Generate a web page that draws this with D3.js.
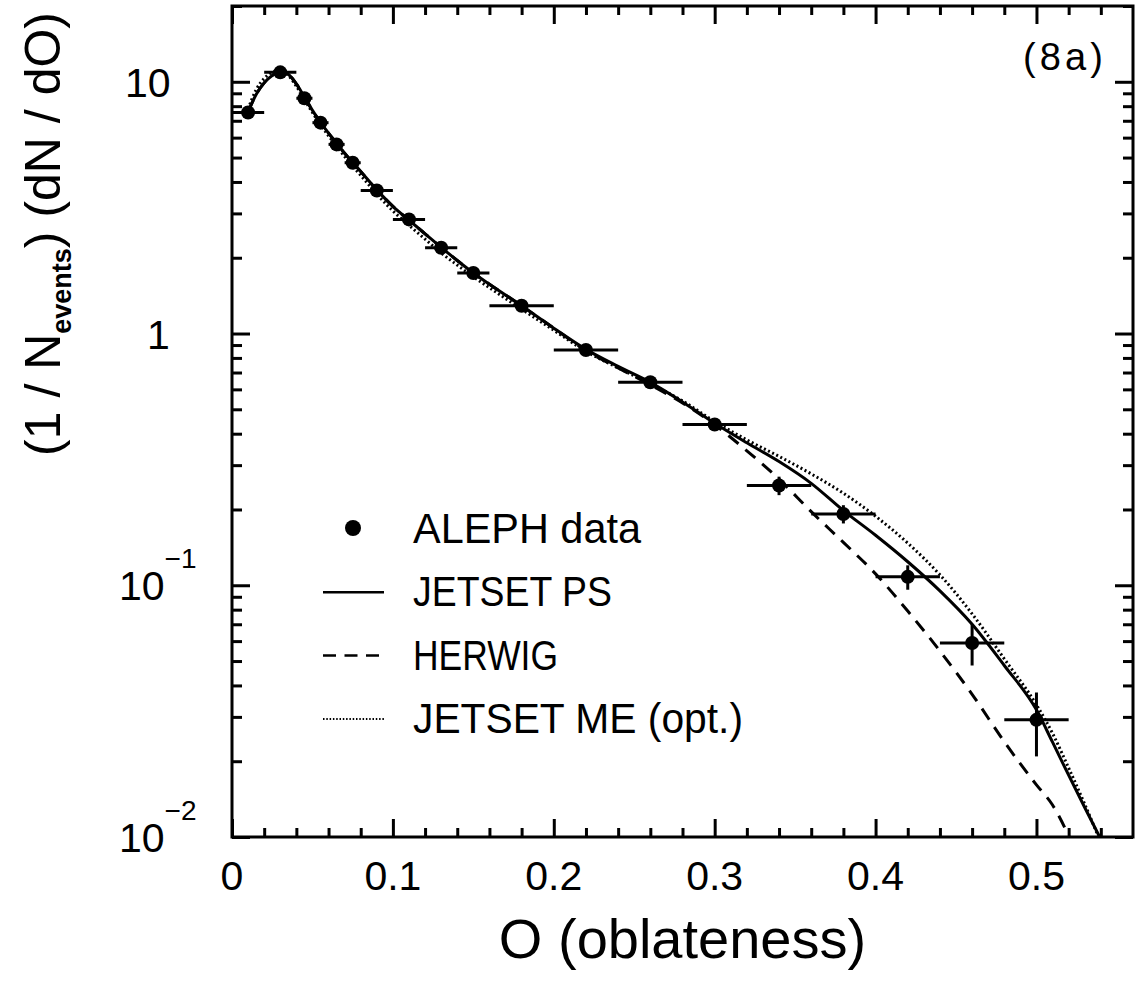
<!DOCTYPE html>
<html><head><meta charset="utf-8">
<script src="https://cdn.jsdelivr.net/npm/d3@7"></script>
<style>
body{margin:0;background:#fff;}
svg{display:block;}
text{font-family:"Liberation Sans",Arial,Helvetica,sans-serif;fill:#000;}
</style>
</head><body>
<svg id="c" width="1137" height="982"></svg>
<script>
// ---- data ----
const binCenters    = [0.01,0.03,0.045,0.055,0.065,0.075,0.09,0.11,0.13,0.15,0.18,0.22,0.26,0.30,0.34,0.38,0.42,0.46,0.50];
const binHalfWidths = [0.01,0.01,0.005,0.005,0.005,0.005,0.01,0.01,0.01,0.01,0.02,0.02,0.02,0.02,0.02,0.02,0.02,0.02,0.02];
const alephValues   = [7.55,10.9,8.6,6.88,5.64,4.77,3.70,2.84,2.19,1.74,1.29,0.86,0.64,0.435,0.249,0.192,0.108,0.059,0.0292];
const alephErrors   = [0.15,0.2,0.15,0.12,0.1,0.08,0.06,0.05,0.04,0.03,0.02,0.025,0.015,0.015,0.021,0.016,0.012,0.011,0.0083];

const curveX   = [0.01,0.015,0.02,0.025,0.03,0.035,0.04,0.045,0.05,0.055,0.06,0.065,0.07,0.075,0.08,0.09,0.10,0.11,0.12,0.13,0.14,0.15,0.16,0.18,0.20,0.22,0.24,0.26,0.28,0.30,0.32,0.34,0.36,0.38,0.40,0.42,0.44,0.46,0.48,0.50,0.51,0.52,0.53,0.54];
const jetsetPS = [7.6,8.9,9.9,10.6,10.95,10.7,9.8,8.7,7.7,6.9,6.25,5.7,5.2,4.78,4.4,3.72,3.2,2.82,2.49,2.2,1.95,1.74,1.57,1.29,1.05,0.865,0.74,0.64,0.535,0.44,0.368,0.31,0.254,0.198,0.158,0.124,0.095,0.070,0.048,0.032,0.0238,0.0176,0.0131,0.0098];
const herwig   = [7.6,8.9,9.9,10.6,10.95,10.7,9.8,8.7,7.7,6.9,6.25,5.7,5.2,4.78,4.4,3.72,3.2,2.82,2.49,2.2,1.95,1.74,1.57,1.29,1.05,0.855,0.73,0.625,0.53,0.434,0.342,0.264,0.196,0.148,0.111,0.079,0.0548,0.0369,0.0239,0.0161,0.0134,0.0101,0.0070,0.0050];
const jetsetME = [7.8,9.3,10.3,10.9,11.05,10.6,9.6,8.5,7.55,6.75,6.1,5.55,5.05,4.62,4.25,3.58,3.07,2.69,2.37,2.09,1.87,1.68,1.52,1.25,1.03,0.85,0.73,0.632,0.54,0.447,0.378,0.325,0.277,0.232,0.188,0.147,0.110,0.077,0.051,0.0335,0.0258,0.0188,0.0135,0.0095];

const xTickValues = [0,0.1,0.2,0.3,0.4,0.5];
const xTickLabels = ["0","0.1","0.2","0.3","0.4","0.5"];
const yTickValues = [10,1,0.1,0.01];
const yTickBase   = ["10","1","10","10"];
const yTickExp    = ["","","−1","−2"];
const legendLabels = ["ALEPH data","JETSET PS","HERWIG","JETSET ME (opt.)"];
const legendKinds  = ["marker","solid","dashed","dotted"];

// ---- layout ----
const svg = d3.select("#c");
const m = {left:232, right:1133, top:6, bottom:837};
const x = d3.scaleLinear().domain([0,0.56]).range([m.left,m.right]);
const y = d3.scaleLog().domain([0.01,20]).range([m.bottom,m.top]);

const dashes = {solid:null, dashed:"13,9", dotted:"2,2.6"};

svg.append("defs").append("clipPath").attr("id","clip")
  .append("rect").attr("x",m.left).attr("y",m.top)
  .attr("width",m.right-m.left).attr("height",m.bottom-m.top);

// ---- axis ticks (inward on all four sides) ----
const xMajor = d3.range(0,0.5001,0.1);
const xMinor = d3.range(0.02,0.5601,0.02).filter(v=>Math.abs(v*10-Math.round(v*10))>1e-6 && v<0.559);
const yMinor = [];
[0.01,0.1,1,10].forEach(d=>{ for(let k=2;k<=9;k++){ if(k*d<=20) yMinor.push(k*d); } });

function styleAxis(g){
  g.select(".domain").remove();
  g.selectAll("line").attr("stroke","#000").attr("stroke-width",3);
}
const axes = [
  [d3.axisBottom(x).tickValues(xMajor).tickSize(-18), `translate(0,${m.bottom})`],
  [d3.axisBottom(x).tickValues(xMinor).tickSize(-9),  `translate(0,${m.bottom})`],
  [d3.axisTop(x).tickValues(xMajor).tickSize(-18),    `translate(0,${m.top})`],
  [d3.axisTop(x).tickValues(xMinor).tickSize(-9),     `translate(0,${m.top})`],
  [d3.axisLeft(y).tickValues(yTickValues).tickSize(-18), `translate(${m.left},0)`],
  [d3.axisLeft(y).tickValues(yMinor).tickSize(-10),      `translate(${m.left},0)`],
  [d3.axisRight(y).tickValues(yTickValues).tickSize(-18),`translate(${m.right},0)`],
  [d3.axisRight(y).tickValues(yMinor).tickSize(-10),     `translate(${m.right},0)`]
];
axes.forEach(([ax,tr])=>{
  svg.append("g").attr("transform",tr).call(ax.tickFormat("")).call(styleAxis);
});

// frame
svg.append("rect").attr("x",m.left).attr("y",m.top)
  .attr("width",m.right-m.left).attr("height",m.bottom-m.top)
  .attr("fill","none").attr("stroke","#000").attr("stroke-width",3);

// ---- tick labels ----
svg.append("g").selectAll("text").data(xTickValues).join("text")
  .attr("x",d=>x(d)).attr("y",m.bottom+53)
  .attr("text-anchor","middle").attr("font-size",41)
  .text((d,i)=>xTickLabels[i]);

const ylab = svg.append("g").selectAll("text").data(yTickValues).join("text")
  .attr("x",(d,i)=>yTickBase[i]==="1"?147:(yTickExp[i]?119:125))
  .attr("y",d=>y(d)+15)
  .attr("font-size",41);
ylab.append("tspan").text((d,i)=>yTickBase[i]);
ylab.filter((d,i)=>yTickExp[i]!=="").append("tspan")
  .attr("font-size",28).attr("dy",-32)
  .text(d=>yTickExp[yTickValues.indexOf(d)]);

// ---- axis titles ----
svg.append("text").attr("x",(m.left+m.right)/2).attr("y",958)
  .attr("text-anchor","middle").attr("font-size",56)
  .text("O (oblateness)");

const yt = svg.append("text")
  .attr("transform","translate(60,234) rotate(-90)")
  .attr("text-anchor","middle").attr("font-size",50);
yt.append("tspan").text("(1 / N");
yt.append("tspan").attr("font-size",27).attr("font-weight","bold").attr("dy",11).text("events");
yt.append("tspan").attr("dy",-11).text(") (dN / dO)");

// label (8a)
svg.append("text").attr("x",1103).attr("y",70).attr("text-anchor","end")
  .attr("font-size",38).attr("textLength",80).attr("lengthAdjust","spacing").text("(8a)");

// ---- curves ----
const plot = svg.append("g").attr("clip-path","url(#clip)");
const line = d3.line().x(d=>x(d[0])).y(d=>y(d[1])).curve(d3.curveMonotoneX);
[
  {vals:herwig, kind:"dashed"},
  {vals:jetsetME, kind:"dotted"},
  {vals:jetsetPS, kind:"solid"}
].forEach(s=>{
  plot.append("path").datum(curveX.map((v,i)=>[v,s.vals[i]]))
    .attr("d",line).attr("fill","none").attr("stroke","#000")
    .attr("stroke-width",3).attr("stroke-dasharray",dashes[s.kind]);
});

// ---- data points ----
const pts = plot.append("g").selectAll("g")
  .data(binCenters.map((c,i)=>({c,h:binHalfWidths[i],v:alephValues[i],e:alephErrors[i]}))).join("g");
pts.append("line").attr("x1",d=>x(d.c-d.h)).attr("x2",d=>x(d.c+d.h))
  .attr("y1",d=>y(d.v)).attr("y2",d=>y(d.v)).attr("stroke","#000").attr("stroke-width",3);
pts.append("line").attr("x1",d=>x(d.c)).attr("x2",d=>x(d.c))
  .attr("y1",d=>y(d.v+d.e)).attr("y2",d=>y(d.v-d.e)).attr("stroke","#000").attr("stroke-width",3);
pts.append("circle").attr("cx",d=>x(d.c)).attr("cy",d=>y(d.v)).attr("r",7).attr("fill","#000");

// ---- legend ----
const legWidths = [228,199,145,330];
const leg = svg.append("g").selectAll("g").data(legendLabels).join("g")
  .attr("transform",(d,i)=>`translate(0,${543+i*63.3})`);
leg.append("text").attr("x",413).attr("y",0).attr("font-size",43)
  .attr("textLength",(d,i)=>legWidths[i]).attr("lengthAdjust","spacingAndGlyphs")
  .text(d=>d);
leg.each(function(d,i){
  const g = d3.select(this);
  const k = legendKinds[i];
  if(k==="marker"){
    g.append("circle").attr("cx",353).attr("cy",-15).attr("r",8).attr("fill","#000");
  } else {
    g.append("line").attr("x1",323).attr("x2",384).attr("y1",-14).attr("y2",-14)
      .attr("stroke","#000").attr("stroke-width",k==="dotted"?2:2.5)
      .attr("stroke-dasharray",k==="dashed"?"13,8.5":(k==="dotted"?"1.5,1.8":null));
  }
});
</script>
</body></html>
